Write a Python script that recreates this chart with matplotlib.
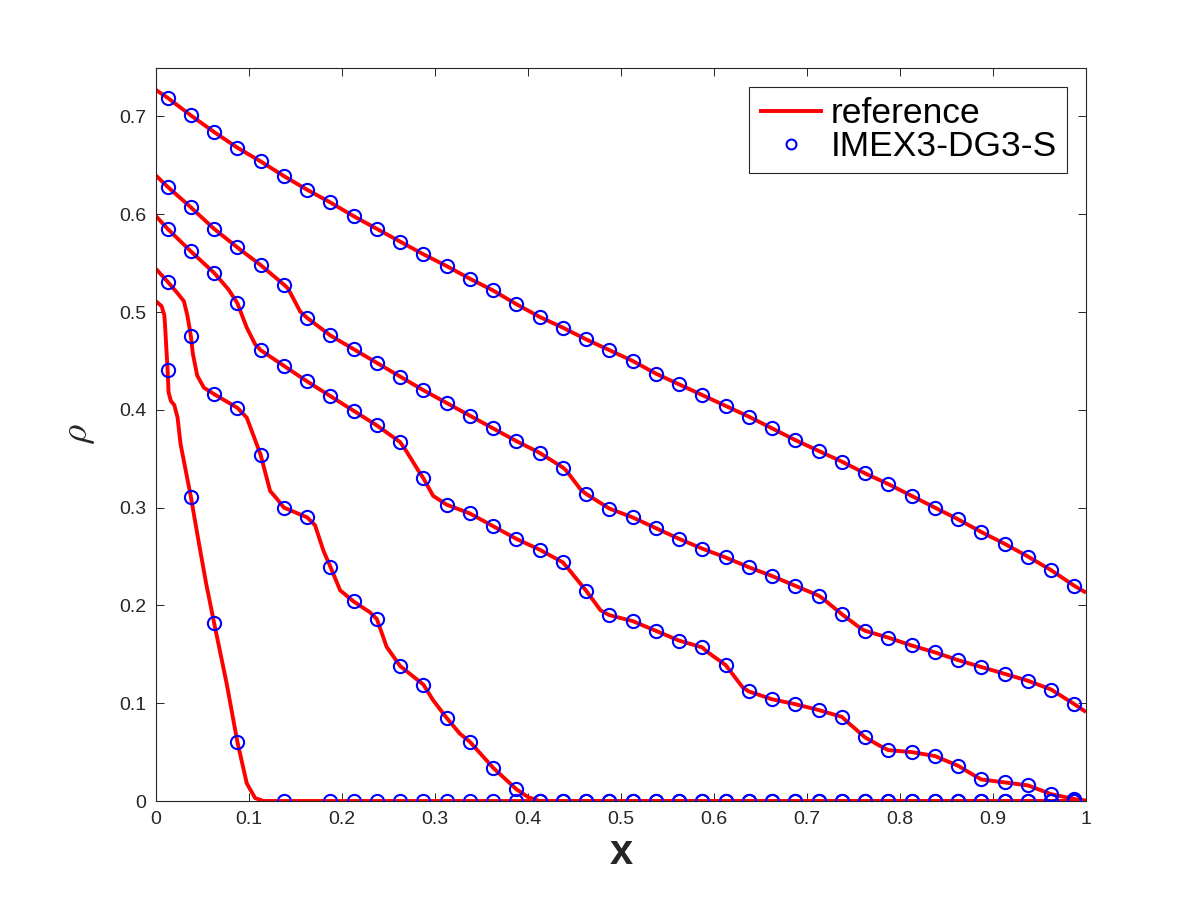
import numpy as np
import matplotlib
matplotlib.use("Agg")
import matplotlib.pyplot as plt

# marker abscissae (cell centres)
x_num = np.linspace(0.0125, 0.9875, 40)

# IMEX3-DG3-S values (nan = no marker drawn)
num1 = [0.719, 0.701, 0.684, 0.668, 0.654, 0.639, 0.625, 0.612, 0.598, 0.585,
        0.572, 0.559, 0.547, 0.534, 0.522, 0.508, 0.495, 0.484, 0.472, 0.461,
        0.450, 0.437, 0.426, 0.415, 0.404, 0.393, 0.381, 0.369, 0.358, 0.347,
        0.335, 0.324, 0.312, 0.300, 0.288, 0.275, 0.263, 0.250, 0.236, 0.220]
num2 = [0.628, 0.607, 0.585, 0.566, 0.548, 0.528, 0.494, 0.476, 0.462, 0.448,
        0.434, 0.420, 0.407, 0.394, 0.381, 0.368, 0.356, 0.341, 0.314, 0.299,
        0.290, 0.279, 0.268, 0.258, 0.249, 0.239, 0.230, 0.220, 0.210, 0.191,
        0.174, 0.167, 0.159, 0.152, 0.144, 0.137, 0.130, 0.123, 0.114, 0.099]
num3 = [0.585, 0.562, 0.540, 0.509, 0.461, 0.445, 0.429, 0.414, 0.399, 0.384,
        0.367, 0.330, 0.303, 0.294, 0.281, 0.268, 0.257, 0.244, 0.215, 0.190,
        0.184, 0.174, 0.164, 0.157, 0.139, 0.112, 0.104, 0.099, 0.093, 0.086,
        0.065, 0.052, 0.050, 0.046, 0.036, 0.022, 0.019, 0.016, 0.007, 0.002]
num4 = [0.531, 0.475, 0.416, 0.402, 0.354, 0.300, 0.290, 0.2395, 0.204, 0.186,
        0.138, 0.119, 0.085, 0.0605, 0.034, 0.012, 0, 0, 0, 0,
        0, 0, 0, 0, 0, 0, 0, 0, 0, 0,
        0, 0, 0, 0, 0, 0, 0, 0, 0, 0]
num5 = [0.4405, 0.311, 0.182, 0.0605, np.nan, 0, np.nan, 0, 0, 0,
        0, 0, 0, 0, 0, 0, 0, 0, 0, 0,
        0, 0, 0, 0, 0, 0, 0, 0, 0, 0,
        0, 0, 0, 0, 0, 0, 0, 0, 0, 0]

# reference solution: extra knots (besides the marker points)
ref1_x = [0.0, 1.0]
ref1_y = [0.727, 0.213]
ref2_x = [0.0, 0.142, 0.155, 0.441, 0.457, 0.717, 0.757, 1.0]
ref2_y = [0.6395, 0.524, 0.5005, 0.338, 0.318, 0.207, 0.177, 0.091]
ref3_x = [0.0, 0.078, 0.0976, 0.1066, 0.269, 0.282, 0.298, 0.442, 0.478,
          0.592, 0.631, 0.742, 0.781, 0.880, 1.0]
ref3_y = [0.598, 0.523, 0.484, 0.467, 0.358, 0.338, 0.312, 0.239, 0.195,
          0.153, 0.116, 0.082, 0.055, 0.026, 0.0005]
ref4_x = [0.0, 0.0229, 0.030, 0.0336, 0.036, 0.0397, 0.0443, 0.0515, 0.0976,
          0.1227, 0.130, 0.171, 0.180, 0.198, 0.230, 0.248, 0.298, 0.3266,
          0.400, 0.415, 1.0]
ref4_y = [0.544, 0.5195, 0.511, 0.497, 0.484, 0.457, 0.435, 0.4226, 0.392,
          0.317, 0.309, 0.282, 0.256, 0.2154, 0.193, 0.1576, 0.103, 0.069,
          0.004, 0.0, 0.0]
ref5_x = [0.0, 0.006, 0.0089, 0.0095, 0.0135, 0.016, 0.0196, 0.0232, 0.0264,
          0.0457, 0.054, 0.076, 0.0976, 0.1066, 0.1155, 1.0]
ref5_y = [0.511, 0.506, 0.497, 0.490, 0.418, 0.409, 0.405, 0.392, 0.365,
          0.266, 0.222, 0.120, 0.018, 0.003, 0.0, 0.0]

nums = [num1, num2, num3, num4, num5]
refs = [(ref1_x, ref1_y), (ref2_x, ref2_y), (ref3_x, ref3_y),
        (ref4_x, ref4_y), (ref5_x, ref5_y)]

plt.rcParams["font.family"] = ["Liberation Sans", "DejaVu Sans"]
plt.rcParams["mathtext.fontset"] = "cm"

ink = "#262626"
fig = plt.figure(figsize=(12, 9), dpi=100)
ax = fig.add_axes([0.13, 0.11, 0.775, 0.815])

for i, (num, (rx, ry)) in enumerate(zip(nums, refs)):
    num = np.asarray(num, dtype=float)
    ok = ~np.isnan(num)
    # line passes through the marker points plus its own knots
    lx = np.concatenate([rx, x_num[ok]])
    ly = np.concatenate([ry, num[ok]])
    order = np.argsort(lx)
    ax.plot(lx[order], ly[order], "-", color="#ff0000", lw=2.8,
            solid_joinstyle="round", solid_capstyle="butt",
            label="reference" if i == 0 else None, zorder=2)
for i, num in enumerate(nums):
    ax.plot(x_num, num, "o", mfc="none", mec="#0000ff", mew=1.5, ms=9.5,
            label="IMEX3-DG3-S" if i == 0 else None, zorder=3)

ax.set_xlim(0, 1)
ax.set_ylim(0, 0.75)
ax.set_xticks(np.arange(0, 1.01, 0.1))
ax.set_xticklabels(["0", "0.1", "0.2", "0.3", "0.4", "0.5", "0.6", "0.7",
                    "0.8", "0.9", "1"])
ax.set_yticks(np.arange(0, 0.71, 0.1))
ax.set_yticklabels(["0", "0.1", "0.2", "0.3", "0.4", "0.5", "0.6", "0.7"])
ax.tick_params(direction="in", top=True, right=True, length=6, width=0.7,
               colors=ink, labelsize=14, pad=7)
for s in ax.spines.values():
    s.set_color(ink)
    s.set_linewidth(0.8)

ax.set_xlabel("x", fontsize=30, fontweight="bold", color=ink, labelpad=4)
ax.set_ylabel(r"$\rho$", fontsize=28, color=ink, labelpad=16)

leg = ax.legend(loc="upper right", fontsize=25.5, fancybox=False, framealpha=1,
                edgecolor=ink, handlelength=1.8, handletextpad=0.22,
                borderpad=0.28, labelspacing=0.0, borderaxespad=0.55,
                markerscale=0.75)
leg.get_frame().set_linewidth(0.8)

fig.savefig("out.png", dpi=100, facecolor="white")
